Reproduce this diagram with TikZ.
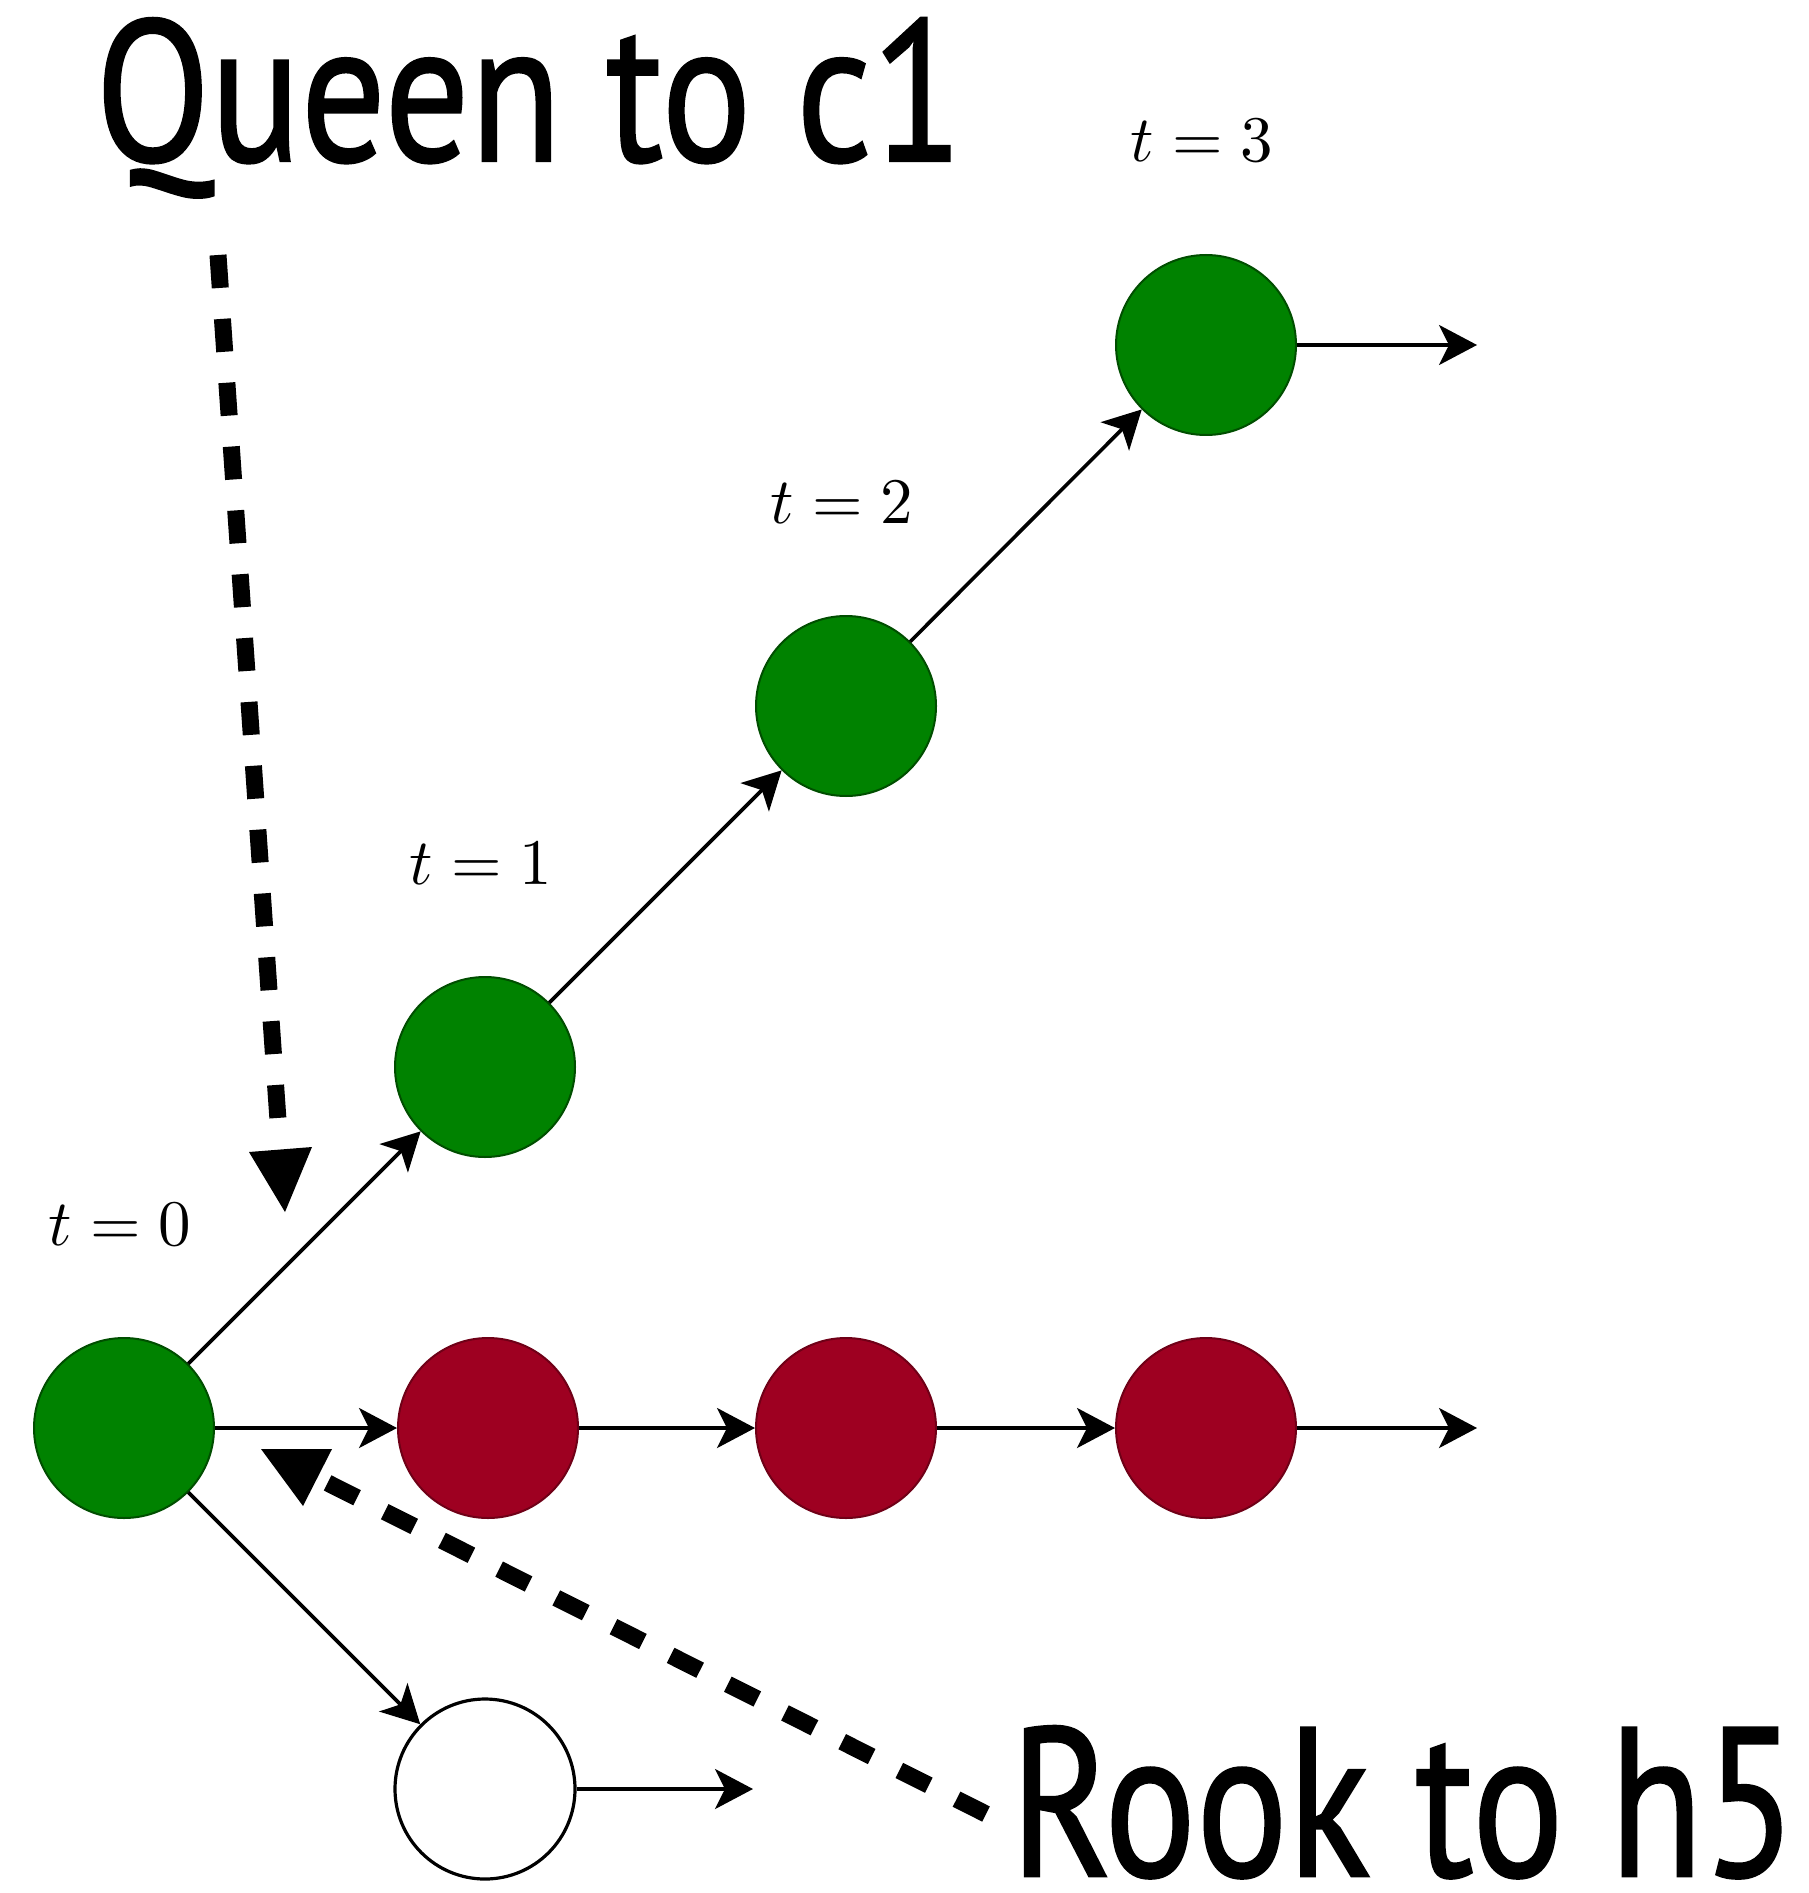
\documentclass[tikz,border=0pt]{standalone}
\usepackage{fontspec}
\newfontfamily\capfont[FakeBold=1.2]{PT Sans}
\usetikzlibrary{arrows.meta}

\definecolor{stategreen}{RGB}{0,130,0}
\definecolor{statered}{RGB}{158,0,33}

\begin{document}
\begin{tikzpicture}[x=0.5pt,y=-0.5pt,
  stateball/.style={circle, minimum size=90pt, inner sep=0pt, line width=1pt},
  alive/.style={stateball, fill=stategreen, draw=stategreen!60!black},
  dead/.style={stateball, fill=statered, draw=statered!70!black},
  unvisited/.style={stateball, fill=white, draw=black, line width=1.6pt},
  trans/.style={-{Stealth[length=19pt,width=20pt,inset=5pt]}, line width=1.8pt},
  tlabel/.style={anchor=base, inner sep=0pt, scale=3.25},
  hint/.style={line width=8.5pt, dash pattern=on 16.5pt off 15.5pt},
  caption/.style={anchor=base west, inner sep=0pt}]

  \useasboundingbox (0,0) rectangle (1808,1893);

  % states
  \node[alive] (s0) at (124,1428) {};
  \node[alive] (a1) at (485,1067) {};
  \node[alive] (a2) at (846,706) {};
  \node[alive] (a3) at (1206,345) {};
  \node[dead] (b1) at (488,1428) {};
  \node[dead] (b2) at (846,1428) {};
  \node[dead] (b3) at (1206,1428) {};
  \node[unvisited] (c1) at (485,1789) {};

  % loose ends of the outgoing transitions
  \coordinate (a3out) at (1477,345);
  \coordinate (b3out) at (1477,1428);
  \coordinate (c1out) at (753,1789);

  % transitions
  \draw[trans] (s0) -- (a1);
  \draw[trans] (a1) -- (a2);
  \draw[trans] (a2) -- (a3);
  \draw[trans] (a3) -- (a3out);
  \draw[trans] (s0) -- (b1);
  \draw[trans] (b1) -- (b2);
  \draw[trans] (b2) -- (b3);
  \draw[trans] (b3) -- (b3out);
  \draw[trans] (s0) -- (c1);
  \draw[trans] (c1) -- (c1out);

  % time step labels
  \node[tlabel] (l0) at (120,1245) {$t=0$};
  \node[tlabel] (l1) at (481,884) {$t=1$};
  \node[tlabel] (l2) at (842,523) {$t=2$};
  \node[tlabel] (l3) at (1202,162) {$t=3$};

  % move captions
  \node[caption] (queen) at (95,161) {\resizebox{434pt}{71.5pt}{\capfont Queen to c1}};
  \node[caption] (rook) at (1010,1876) {\resizebox{393pt}{75pt}{\capfont Rook to h5}};

  % pointers from the captions
  \coordinate (qstart) at (218,255);
  \coordinate (qend) at (278,1120);
  \draw[hint] (qstart) -- (qend);
  \fill (249,1152) -- (312,1147) -- (285,1212) -- cycle;

  \coordinate (rstart) at (986,1814);
  \coordinate (rend) at (327,1482.6);
  \draw[hint] (rstart) -- (rend);
  \fill (261,1449) -- (332,1449) -- (303,1506) -- cycle;
\end{tikzpicture}
\end{document}
